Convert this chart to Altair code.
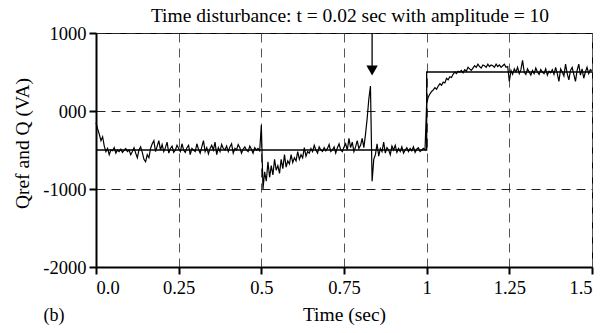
import altair as alt
import pandas as pd

# Sampled measured reactive power Q (VA), one value every 0.005 s from 0.0 to 1.5 s
t_step = 0.005
q_values = [
    -150, -230, -300, -380, -330, -450, -520, -480, -560, -500,   # 0.00
    -510, -470, -540, -500, -520, -490, -530, -505, -480, -520,   # 0.05
    -500, -560, -520, -470, -540, -600, -500, -460, -530, -620,   # 0.10
    -650, -560, -600, -480, -420, -380, -520, -450, -380, -500,   # 0.15
    -430, -520, -470, -400, -540, -480, -450, -530, -500, -440,   # 0.20
    -480, -520, -420, -500, -530, -470, -440, -560, -480, -500,   # 0.25
    -520, -420, -490, -540, -460, -380, -520, -470, -550, -480,   # 0.30
    -440, -500, -400, -560, -470, -520, -430, -480, -500, -450,   # 0.35
    -520, -460, -420, -540, -480, -500, -430, -470, -540, -490,   # 0.40
    -460, -500, -520, -450, -490, -540, -470, -500, -480, -510,   # 0.45
    -180, -1000, -780, -900, -650, -850, -700, -820, -620, -760,  # 0.50
    -700, -800, -620, -740, -560, -720, -640, -680, -560, -660,   # 0.55
    -600, -640, -520, -620, -560, -600, -470, -580, -520, -540,   # 0.60
    -480, -520, -440, -500, -540, -460, -500, -520, -470, -510,   # 0.65
    -480, -430, -520, -500, -460, -540, -470, -420, -500, -520,   # 0.70
    -460, -420, -500, -350, -470, -400, -520, -460, -380, -480,   # 0.75
    -440, -350, -470, -300, -100, 150, 320, -900, -620, -560,     # 0.80
    -420, -580, -480, -520, -400, -540, -470, -500, -560, -450,   # 0.85
    -500, -440, -530, -480, -520, -460, -540, -500, -470, -520,   # 0.90
    -480, -510, -460, -530, -490, -470, -520, -500, -480, -500,   # 0.95
    100, 180, 220, 250, 270, 300, 280, 320, 350, 330,             # 1.00
    370, 360, 420, 400, 440, 430, 470, 500, 480, 510,             # 1.05
    500, 520, 490, 530, 510, 560, 540, 520, 550, 580,             # 1.10
    560, 600, 570, 550, 590, 580, 560, 600, 570, 590,             # 1.15
    580, 560, 600, 570, 590, 560, 580, 600, 560, 570,             # 1.20
    380, 520, 470, 540, 500, 560, 480, 530, 650, 500,             # 1.25
    470, 540, 500, 460, 520, 480, 550, 500, 470, 530,             # 1.30
    500, 480, 540, 460, 510, 490, 530, 470, 560, 480,             # 1.35
    380, 540, 500, 450, 600, 480, 400, 520, 560, 470,             # 1.40
    380, 520, 600, 460, 540, 420, 500, 560, 480, 530,             # 1.45
    520,                                                          # 1.50
]
q_time = [round(i * t_step, 3) for i in range(len(q_values))]

# Reference Qref (step at t = 1 s)
qref_time = [0.0, 1.0, 1.0, 1.5]
qref_values = [-500, -500, 500, 500]

# Disturbance arrow
arrow_t = [0.835]
arrow_top = [1000]
arrow_tip = [520]

x_ticks = [0.0, 0.25, 0.5, 0.75, 1.0, 1.25, 1.5]
y_ticks = [-2000, -1000, 0, 1000]

title_text = ["Time disturbance: t = 0.02 sec with amplitude = 10"]
panel_text = ["(b)"]

FONT = "Liberation Serif"

sig_df = pd.DataFrame({"t": q_time, "v": q_values, "i": list(range(len(q_values)))})
ref_df = pd.DataFrame({"t": qref_time, "v": qref_values, "i": list(range(len(qref_values)))})
arr_df = pd.DataFrame({"t": arrow_t, "top": arrow_top, "tip": arrow_tip})

x_scale = alt.Scale(domain=[0, 1.5], nice=False, zero=False)
y_scale = alt.Scale(domain=[-2000, 1000], nice=False, zero=False)

x_axis = alt.Axis(
    values=x_ticks,
    labelExpr="datum.value == 0 ? '0.0' : '' + datum.value",
    labelPadding=4,
    gridColor="#555555",
    title="Time (sec)",
    titleX=248, titleY=53, titleBaseline="alphabetic", titleAlign="center",
)
y_axis = alt.Axis(
    values=y_ticks,
    labelExpr="datum.value == 0 ? '000' : '' + datum.value",
    labelPadding=3,
    gridColor="#222222",
    title="Qref and Q (VA)",
    titleX=-74, titleY=110, titleAngle=-90, titleBaseline="middle", titleAlign="center",
)

signal = alt.Chart(sig_df).mark_line(color="black", strokeWidth=1.2).encode(
    x=alt.X("t:Q", scale=x_scale, axis=x_axis),
    y=alt.Y("v:Q", scale=y_scale, axis=y_axis),
    order="i:Q",
)

ref = alt.Chart(ref_df).mark_line(color="black", strokeWidth=1.3).encode(
    x=alt.X("t:Q", scale=x_scale),
    y=alt.Y("v:Q", scale=y_scale),
    order="i:Q",
)

arrow_line = alt.Chart(arr_df).mark_rule(color="black", strokeWidth=1.3).encode(
    x=alt.X("t:Q", scale=x_scale),
    y=alt.Y("top:Q", scale=y_scale),
    y2="tip:Q",
)
arrow_head = alt.Chart(arr_df).mark_point(
    shape="triangle-down", filled=True, color="black", size=130, opacity=1
).encode(
    x=alt.X("t:Q", scale=x_scale),
    y=alt.Y("tip:Q", scale=y_scale),
)

label_b = alt.Chart(pd.DataFrame({"txt": panel_text})).mark_text(
    font=FONT, fontSize=18, color="black", align="center", baseline="middle"
).encode(x=alt.value(-42), y=alt.value(283), text="txt:N")

title_mark = alt.Chart(pd.DataFrame({"txt": title_text})).mark_text(
    font=FONT, fontSize=19.5, color="black", align="center", baseline="alphabetic"
).encode(x=alt.value(254), y=alt.value(-11), text="txt:N")

chart = alt.layer(signal, ref, arrow_line, arrow_head, label_b, title_mark).properties(
    width=496,
    height=234,
    background="white",
    autosize=alt.AutoSizeParams(type="none"),
    padding={"left": 88, "top": 25, "right": 10, "bottom": 58},
).configure_view(
    stroke="black", strokeWidth=1
).configure_axis(
    labelFont=FONT, labelFontSize=18.5, labelColor="black",
    titleFont=FONT, titleFontSize=19.5, titleFontWeight="normal", titleColor="black",
    domainColor="black", domainWidth=2,
    tickColor="black", tickWidth=2, tickSize=7,
    grid=True, gridDash=[9, 6], gridWidth=1, gridOpacity=1,
)

chart.save("out.html", embed_options={"renderer": "svg", "actions": False})
